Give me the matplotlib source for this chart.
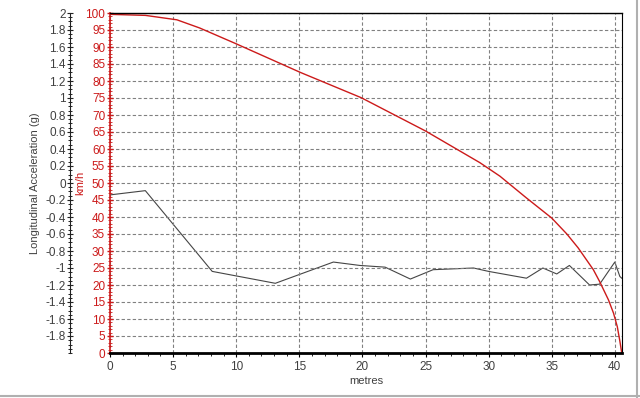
import numpy as np
import matplotlib
matplotlib.use('Agg')
import matplotlib.pyplot as plt
from matplotlib.ticker import MultipleLocator
from matplotlib.lines import Line2D

plt.rcParams['font.family'] = ['Liberation Sans', 'DejaVu Sans']
plt.rcParams['font.size'] = 8

# speed trace (km/h) against distance (m)
speed_x = [0, 2.8, 5.3, 7.1, 9.9, 15.1, 19.9, 25.0, 29.3, 30.9, 33.0, 35.0, 36.2, 37.1,
           38.3, 38.8, 39.5, 39.9, 40.2, 40.4, 40.55]
speed_v = [99.6, 99.3, 98.0, 95.6, 91.1, 82.5, 75.1, 65.3, 56.0, 52.0, 45.6, 39.7, 35.0, 30.9,
           24.5, 21.0, 15.6, 11.7, 7.7, 3.5, 0]

# longitudinal acceleration (g) against distance (m)
acc_x = [0, 2.8, 8.1, 13.1, 17.7, 19.8, 21.8, 23.8, 25.6, 28.8, 30.0, 33.0, 34.3, 35.4,
         36.4, 38.0, 38.8, 40.0, 40.4, 40.55]
acc_g = [-0.14, -0.09, -1.04, -1.18, -0.93, -0.97, -0.99, -1.13, -1.02, -1.0, -1.04, -1.12,
         -1.0, -1.07, -0.97, -1.2, -1.19, -0.93, -1.1, -1.12]

x_ticks = [0, 5, 10, 15, 20, 25, 30, 35, 40]
kmh_ticks = list(range(0, 101, 5))
acc_ticks = [round(-1.8 + 0.2 * i, 1) for i in range(20)]

red = '#cc1a1a'
grey_txt = '#404040'

fig = plt.figure(figsize=(6.4, 3.98), dpi=100)
ax = fig.add_axes([110 / 640, 45 / 398, 512 / 640, 340 / 398])
acc = ax.twinx()

# km/h axis in front, acceleration behind
ax.set_zorder(2)
ax.patch.set_visible(False)

acc.plot(acc_x, acc_g, color='#454545', lw=0.8)
ax.plot(speed_x, speed_v, color=red, lw=1.0)

ax.set_xlim(0, 40.57)
ax.set_ylim(0, 100)
acc.set_ylim(-2, 2)

# grid
ax.set_xticks(x_ticks)
ax.set_yticks(kmh_ticks)
ax.grid(True, color='#808080', ls=(0, (3, 2)), lw=0.8)

# km/h axis
ax.spines['left'].set_color(red)
ax.spines['left'].set_linewidth(1.2)
ax.yaxis.set_minor_locator(MultipleLocator(1))
ax.tick_params(axis='y', colors=red, direction='inout', length=5, width=1, labelsize=8.5, pad=1)
ax.tick_params(axis='y', which='minor', colors=red, direction='inout', length=2.5)
ax.set_ylabel('km/h', color=red, fontsize=8)
ax.yaxis.set_label_coords(-25 / 512, 0.5)

# x axis
ax.spines['bottom'].set_linewidth(2)
ax.spines['top'].set_linewidth(1)
ax.xaxis.set_minor_locator(MultipleLocator(1))
ax.tick_params(axis='x', colors='black', labelcolor=grey_txt, direction='out', length=3,
               labelsize=8.5, pad=3)
ax.tick_params(axis='x', which='minor', direction='out', length=2)
ax.set_xlabel('metres', color=grey_txt, fontsize=8, labelpad=2)

# acceleration axis, moved out to the left
acc.yaxis.set_ticks_position('left')
acc.yaxis.set_label_position('left')
acc.spines['left'].set_position(('axes', -40 / 512))
acc.spines['left'].set_visible(True)
acc.spines['left'].set_color('#222222')
acc.spines['right'].set_visible(False)
acc.spines['top'].set_visible(False)
acc.spines['bottom'].set_visible(False)
acc.set_yticks(acc_ticks)
acc.set_yticklabels(['%g' % t for t in acc_ticks])
acc.yaxis.set_minor_locator(MultipleLocator(0.05))
acc.tick_params(axis='y', colors='#222222', labelcolor=grey_txt, direction='inout', length=4,
                labelsize=8.5, pad=1)
acc.tick_params(axis='y', which='minor', direction='inout', length=2.5)
acc.set_ylabel('Longitudinal Acceleration (g)', color=grey_txt, fontsize=8)
acc.yaxis.set_label_coords(-70 / 512, 0.5)

# window border
fig.add_artist(Line2D([0, 1], [2.5 / 398, 2.5 / 398], color='#b0b0b0', lw=1.5))
fig.add_artist(Line2D([637 / 640, 637 / 640], [0, 1], color='#b0b0b0', lw=1.5))

fig.savefig('out.png', dpi=100)
